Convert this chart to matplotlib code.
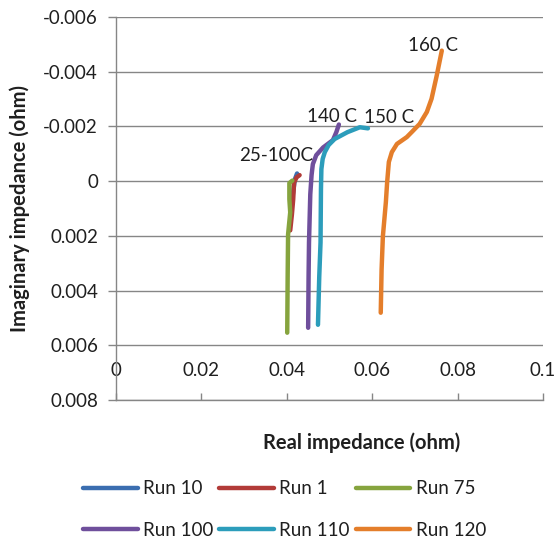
import matplotlib.pyplot as plt
from matplotlib.ticker import MultipleLocator, FuncFormatter

plt.rcParams['font.family'] = ['Lato', 'DejaVu Sans']

# Nyquist data: real / imaginary impedance (ohm) for each run
run10_re = [0.0424, 0.0419, 0.0414, 0.0410]
run10_im = [-0.00028, -0.00007, 0.00050, 0.00110]

run1_re = [0.0430, 0.0423, 0.0417, 0.0415, 0.0412, 0.0408]
run1_im = [-0.00022, -0.00014, 0.00005, 0.00066, 0.00121, 0.00180]

run75_re = [0.0413, 0.0406, 0.0406, 0.0408, 0.0403, 0.0402, 0.0401]
run75_im = [-0.00002, 0.00007, 0.00066, 0.00114, 0.00195, 0.00349, 0.00554]

run100_re = [0.0522, 0.0516, 0.0508, 0.0485, 0.0469, 0.0461, 0.0458, 0.0455, 0.0452, 0.0451, 0.0450]
run100_im = [-0.00207, -0.00179, -0.00150, -0.00123, -0.00095, -0.00062, -0.00022, 0.00048, 0.00224, 0.00349, 0.00536]

run110_re = [0.0590, 0.0571, 0.0542, 0.0512, 0.0498, 0.0489, 0.0484, 0.0481, 0.0480, 0.0479, 0.0476, 0.0473]
run110_im = [-0.00193, -0.00197, -0.00179, -0.00154, -0.00132, -0.00106, -0.00081, -0.00044, 0.00029, 0.00224, 0.00349, 0.00525]

run120_re = [0.0763, 0.0751, 0.0739, 0.0728, 0.0711, 0.0693, 0.0681, 0.0658, 0.0646, 0.0639, 0.0635, 0.0632, 0.0625, 0.0622, 0.0620]
run120_im = [-0.00477, -0.00385, -0.00301, -0.00253, -0.00209, -0.00180, -0.00161, -0.00136, -0.00106, -0.00070, 0.00004, 0.00077, 0.00202, 0.00323, 0.00481]

series = [
    ('Run 10', run10_re, run10_im, '#3b6eb0'),
    ('Run 1', run1_re, run1_im, '#b23b38'),
    ('Run 75', run75_re, run75_im, '#86a43e'),
    ('Run 100', run100_re, run100_im, '#6f4f9c'),
    ('Run 110', run110_re, run110_im, '#2c9dbb'),
    ('Run 120', run120_re, run120_im, '#e47e2b'),
]

# temperature labels: text, series index, point index, offset (points)
temp_labels = [
    ('25-100C', 1, 0, (-17, 14)),
    ('140 C', 3, 0, (-5, 5.5)),
    ('150 C', 4, 0, (15, 8)),
    ('160 C', 5, 0, (-6, 3.5)),
]

grey = '#868686'
txt_col = '#1f1f1f'

fig = plt.figure(figsize=(5.58, 5.39), dpi=100)
ax = fig.add_axes([116 / 558, 1 - 400 / 539, 427 / 558, 383 / 539])

lines = {}
for name, re, im, col in series:
    ln, = ax.plot(re, im, color=col, lw=3.2, solid_capstyle='round',
                  solid_joinstyle='round', label=name)
    lines[name] = ln

for txt, si, pi, off in temp_labels:
    xs, ys = series[si][1], series[si][2]
    ax.annotate(txt, (xs[pi], ys[pi]), xytext=off, textcoords='offset points',
                ha='center', va='center', fontsize=13.5, color=txt_col)

ax.set_xlim(0, 0.1)
ax.set_ylim(0.008, -0.006)
ax.xaxis.set_major_locator(MultipleLocator(0.02))
ax.yaxis.set_major_locator(MultipleLocator(0.002))
ax.xaxis.set_major_formatter(FuncFormatter(lambda v, p: '%g' % round(v, 3)))
ax.yaxis.set_major_formatter(FuncFormatter(lambda v, p: '0' if abs(v) < 1e-9 else '%.3f' % v))

ax.grid(True, axis='y', color=grey, lw=1)
ax.set_axisbelow(True)
for s in ['top', 'right']:
    ax.spines[s].set_visible(False)
for s in ['left', 'bottom']:
    ax.spines[s].set_color(grey)
    ax.spines[s].set_linewidth(1)

ax.tick_params(axis='y', direction='out', length=6, width=1, color=grey,
               pad=7, labelsize=13.5, labelcolor=txt_col)
ax.tick_params(axis='x', direction='in', length=5, width=1, color=grey,
               pad=-27, labelsize=13.5, labelcolor=txt_col)

fig.text(362 / 558, 1 - 443 / 539, 'Real impedance (ohm)', ha='center', va='center',
         fontsize=14.5, fontweight='bold', color=txt_col)
fig.text(20 / 558, 1 - 209 / 539, 'Imaginary impedance (ohm)', ha='center', va='center',
         rotation=90, fontsize=14.5, fontweight='bold', color=txt_col)

order = ['Run 10', 'Run 100', 'Run 1', 'Run 110', 'Run 75', 'Run 120']
fig.legend([lines[n] for n in order], order, ncol=3, loc='center left',
           bbox_to_anchor=(74 / 558, 1 - 509.5 / 539), frameon=False, fontsize=13.5,
           handlelength=2.9, handletextpad=0.3, columnspacing=0.3,
           labelspacing=1.3, borderpad=0, labelcolor=txt_col)

fig.savefig('out.png', dpi=100)
